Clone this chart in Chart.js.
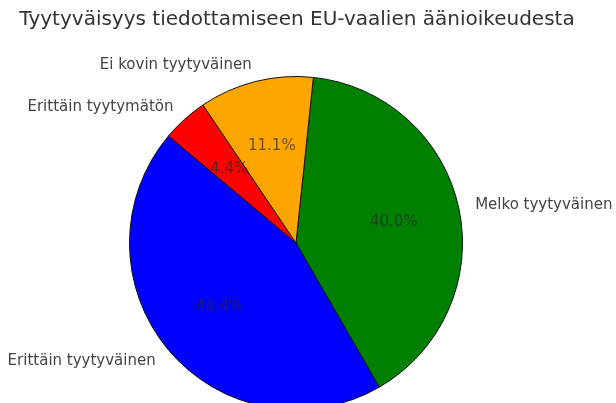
<!DOCTYPE html>
<html>
<head>
<meta charset="utf-8">
<script src="https://cdn.jsdelivr.net/npm/chart.js@4"></script>
<style>
  html, body { margin: 0; padding: 0; background: #fff; overflow: hidden; }
  #wrap { width: 616px; height: 420px; }
</style>
</head>
<body>
<div id="wrap"><canvas id="canvas-chart" width="616" height="420"></canvas></div>
<script>
// Data
const labels = ["Melko tyytyväinen", "Erittäin tyytyväinen", "Erittäin tyytymätön", "Ei kovin tyytyväinen"];
const counts = [18, 20, 2, 5];
const colors = ["green", "blue", "red", "orange"];
const title = "Tyytyväisyys tiedottamiseen EU-vaalien äänioikeudesta";

const total = counts.reduce((a, b) => a + b, 0);

// Plugin untuk teks judul, label dan persentase
const pieText = {
  id: "pieText",
  afterDatasetsDraw(chart) {
    const ctx = chart.ctx;
    const meta = chart.getDatasetMeta(0);
    ctx.save();
    ctx.font = "20px 'DejaVu Sans'";
    ctx.fillStyle = "#333";
    ctx.textAlign = "center";
    ctx.textBaseline = "middle";
    ctx.fillText(title, 297, 20);

    meta.data.forEach((arc, i) => {
      const p = arc.getProps(["x", "y", "startAngle", "endAngle", "outerRadius"], true);
      const mid = (p.startAngle + p.endAngle) / 2;
      const cos = Math.cos(mid), sin = Math.sin(mid);

      // label luar
      ctx.font = "15px 'DejaVu Sans'";
      ctx.fillStyle = "#444";
      ctx.textAlign = cos >= 0 ? "left" : "right";
      ctx.fillText(labels[i], p.x + cos * p.outerRadius * 1.1, p.y + sin * p.outerRadius * 1.1);

      // persentase
      ctx.textAlign = "center";
      ctx.fillStyle = "rgba(40,40,40,0.7)";
      const pct = (counts[i] / total * 100).toFixed(1) + "%";
      ctx.fillText(pct, p.x + cos * p.outerRadius * 0.6, p.y + sin * p.outerRadius * 0.6);
    });
    ctx.restore();
  }
};

const ctx = document.getElementById("canvas-chart").getContext("2d");
new Chart(ctx, {
  type: "pie",
  data: {
    labels: labels,
    datasets: [{
      data: counts,
      backgroundColor: colors,
      borderColor: "#111",
      borderWidth: 1,
    }],
  },
  options: {
    responsive: false,
    animation: false,
    rotation: 6,
    layout: { padding: { top: 76, bottom: 10, left: 129, right: 153 } },
    plugins: {
      legend: { display: false },
      tooltip: { enabled: false },
      title: { display: false },
    },
  },
  plugins: [pieText],
});
</script>
</body>
</html>
